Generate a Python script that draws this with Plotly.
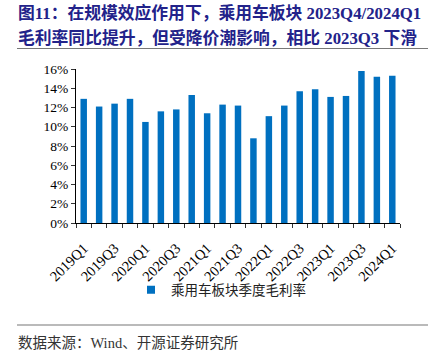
import plotly.graph_objects as go

quarters = ["2019Q1", "2019Q2", "2019Q3", "2019Q4",
            "2020Q1", "2020Q2", "2020Q3", "2020Q4",
            "2021Q1", "2021Q2", "2021Q3", "2021Q4",
            "2022Q1", "2022Q2", "2022Q3", "2022Q4",
            "2023Q1", "2023Q2", "2023Q3", "2023Q4",
            "2024Q1"]
gross_margin = [12.9, 12.1, 12.4, 12.9,
                10.5, 11.6, 11.8, 13.3,
                11.4, 12.3, 12.2, 8.8,
                11.1, 12.2, 13.7, 13.9,
                13.1, 13.2, 15.8, 15.2,
                15.3]
tick_labels = [q if i % 2 == 0 else "" for i, q in enumerate(quarters)]
y_ticks = [0, 2, 4, 6, 8, 10, 12, 14, 16]
y_tick_labels = [f"{v}%" for v in y_ticks]

series_name = "乘用车板块季度毛利率"
title_line1 = "图11：在规模效应作用下，乘用车板块 2023Q4/2024Q1"
title_line2 = "毛利率同比提升，但受降价潮影响，相比 2023Q3 下滑"
source_text = "数据来源：Wind、开源证券研究所"

SERIF = "Times New Roman, Liberation Serif, Noto Sans CJK SC, serif"
CJK = "Liberation Serif, Noto Sans CJK SC, sans-serif"
BAR_COLOR = "#0070C0"

W, H = 441, 357
L, R, T, B = 76, 41, 69, 134
pw, ph = W - L - R, H - T - B


def px_x(x):
    return (x - L) / pw


def px_y(y):
    return (H - B - y) / ph


fig = go.Figure()
fig.add_trace(go.Bar(
    x=quarters, y=gross_margin, name=series_name,
    marker=dict(color=BAR_COLOR, line=dict(width=0)),
    width=0.42, showlegend=False,
))
# legend entry with a small square swatch
fig.add_trace(go.Scatter(
    x=[None], y=[None], mode="markers", name=series_name,
    marker=dict(symbol="square", size=8, color=BAR_COLOR),
    showlegend=True,
))

fig.update_layout(
    width=W, height=H,
    margin=dict(l=L, r=R, t=T, b=B, pad=0, autoexpand=False),
    paper_bgcolor="white", plot_bgcolor="white",
    font=dict(family=SERIF, size=13, color="#000000"),
    showlegend=True,
    legend=dict(orientation="h", x=px_x(131), y=px_y(290),
                xanchor="left", yanchor="middle",
                font=dict(family=CJK, size=13.5, color="#222222"),
                itemwidth=30, bgcolor="rgba(0,0,0,0)", borderwidth=0),
)
fig.update_xaxes(
    type="category", tickmode="array", tickvals=quarters, ticktext=tick_labels,
    tickangle=-45, tickson="boundaries", ticks="outside", ticklen=4,
    tickcolor="#333333", showline=True, linecolor="#000000", linewidth=1,
    showgrid=False, automargin=False, ticklabelstandoff=10,
    tickfont=dict(family=SERIF, size=14.5, color="#000000"),
)
fig.update_yaxes(
    range=[0, 16], tickmode="array", tickvals=y_ticks, ticktext=y_tick_labels,
    ticks="outside", ticklen=4, tickcolor="#333333", showline=True,
    linecolor="#000000", linewidth=1, showgrid=False, zeroline=False,
    automargin=False,
    tickfont=dict(family=SERIF, size=13.5, color="#000000"),
)

fig.add_annotation(text=f"<b>{title_line1}</b>", xref="paper", yref="paper",
                   x=px_x(16), y=px_y(13), xanchor="left", yanchor="middle",
                   showarrow=False,
                   font=dict(family=CJK, size=16.8, color="#22228A"))
fig.add_annotation(text=f"<b>{title_line2}</b>", xref="paper", yref="paper",
                   x=px_x(16), y=px_y(38), xanchor="left", yanchor="middle",
                   showarrow=False,
                   font=dict(family=CJK, size=16.8, color="#22228A"))
fig.add_annotation(text=source_text, xref="paper", yref="paper",
                   x=px_x(16), y=px_y(343), xanchor="left", yanchor="middle",
                   showarrow=False,
                   font=dict(family=CJK, size=14.5, color="#333333"))

for y in (48.5, 325):
    fig.add_shape(type="line", xref="paper", yref="paper",
                  x0=px_x(17), x1=px_x(428), y0=px_y(y), y1=px_y(y),
                  line=dict(color="#777777", width=1.2))

fig.write_html("out.html",
               config={"displayModeBar": False},
               post_script="document.body.style.margin='0';"
                           "document.body.style.overflow='hidden';")
